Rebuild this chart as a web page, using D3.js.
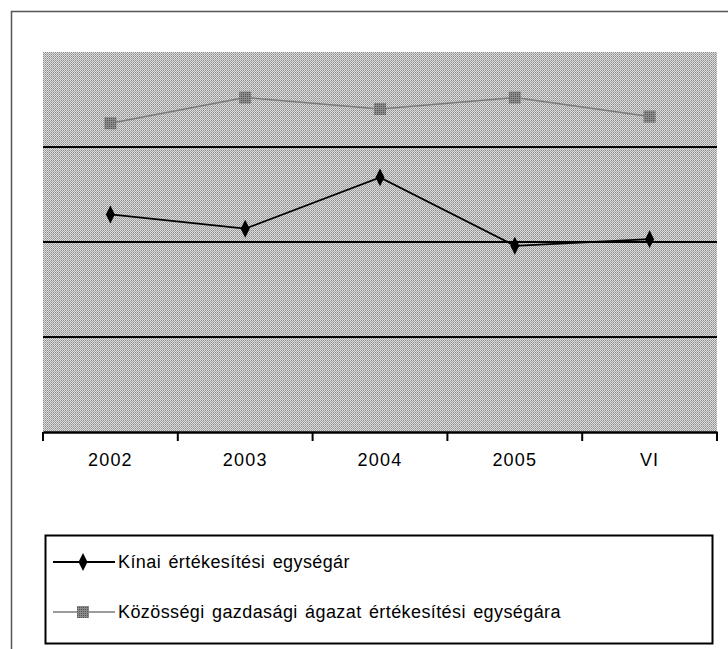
<!DOCTYPE html>
<html>
<head>
<meta charset="utf-8">
<script src="https://cdn.jsdelivr.net/npm/d3@7"></script>
<style>
body { margin: 0; background: #fff; }
svg text { font-family: "Liberation Sans", Arial, sans-serif; }
</style>
</head>
<body>
<div id="chart"></div>
<script>
// data
var categories = ["2002", "2003", "2004", "2005", "VI"];
var kinaiValues = [2.29, 2.14, 2.68, 1.96, 2.03];
var kozossegiValues = [3.25, 3.52, 3.40, 3.52, 3.32];
var gridValues = [1, 2, 3];
var seriesNames = ["Kínai értékesítési egységár", "Közösségi gazdasági ágazat értékesítési egységára"];

var W = 728, H = 649;
var margin = {top: 52, right: 11, bottom: 217, left: 43};
var width = W - margin.left - margin.right;
var height = H - margin.top - margin.bottom;

var svg = d3.select("#chart").append("svg")
    .attr("width", W)
    .attr("height", H);

// dithered grey fill of the plot area
var defs = svg.append("defs");
var pat = defs.append("pattern")
    .attr("id", "dots")
    .attr("width", 2).attr("height", 2)
    .attr("patternUnits", "userSpaceOnUse");
pat.append("rect").attr("width", 2).attr("height", 2).attr("fill", "#dcdcdc");
pat.append("rect").attr("width", 1).attr("height", 1).attr("fill", "#8c8c8c");
pat.append("rect").attr("x", 1).attr("y", 1).attr("width", 1).attr("height", 1).attr("fill", "#a8a8a8");

var patSq = defs.append("pattern")
    .attr("id", "sq")
    .attr("width", 2).attr("height", 2)
    .attr("patternUnits", "userSpaceOnUse");
patSq.append("rect").attr("width", 2).attr("height", 2).attr("fill", "#8a8a8a");
patSq.append("rect").attr("width", 1).attr("height", 1).attr("fill", "#555");

// outer frame
svg.append("rect")
    .attr("x", 11.5).attr("y", 11.5)
    .attr("width", W + 10).attr("height", H + 10)
    .attr("fill", "none")
    .attr("stroke", "#555")
    .attr("stroke-width", 1.5);

var g = svg.append("g")
    .attr("transform", "translate(" + margin.left + "," + margin.top + ")");

var x = d3.scaleBand().domain(categories).range([0, width]);
var y = d3.scaleLinear().domain([0, 4]).range([height, 0]);

g.append("rect")
    .attr("width", width)
    .attr("height", height)
    .attr("fill", "url(#dots)");

g.selectAll(".grid")
    .data(gridValues)
    .enter().append("line")
    .attr("x1", 0).attr("x2", width)
    .attr("y1", function (d) { return y(d); })
    .attr("y2", function (d) { return y(d); })
    .attr("stroke", "#000")
    .attr("stroke-width", 2);

var xAxis = g.append("g")
    .attr("transform", "translate(0," + height + ")")
    .call(d3.axisBottom(x).tickSize(0).tickPadding(21));
xAxis.select(".domain").attr("stroke", "#000").attr("stroke-width", 2.5);
xAxis.selectAll("text").attr("font-size", 18).attr("fill", "#000")
    .attr("letter-spacing", 1.2)
    .attr("font-family", "Liberation Sans, Arial, sans-serif");

// tick marks at band edges
var edges = categories.map(function (c) { return x(c); }).concat([width]);
xAxis.selectAll(".edge")
    .data(edges)
    .enter().append("line")
    .attr("x1", function (d) { return d; })
    .attr("x2", function (d) { return d; })
    .attr("y1", 0).attr("y2", 9)
    .attr("stroke", "#000")
    .attr("stroke-width", 2);

function cx(i) { return x(categories[i]) + x.bandwidth() / 2; }

var line = d3.line()
    .x(function (d, i) { return cx(i); })
    .y(function (d) { return y(d); });

g.append("path")
    .datum(kozossegiValues)
    .attr("d", line)
    .attr("fill", "none")
    .attr("stroke", "#7a7a7a")
    .attr("stroke-width", 1.5);

g.append("path")
    .datum(kinaiValues)
    .attr("d", line)
    .attr("fill", "none")
    .attr("stroke", "#000")
    .attr("stroke-width", 1.8);

var diamond = d3.symbol().type(d3.symbolDiamond).size(70);

g.selectAll(".sq")
    .data(kozossegiValues)
    .enter().append("rect")
    .attr("x", function (d, i) { return cx(i) - 6; })
    .attr("y", function (d) { return y(d) - 6; })
    .attr("width", 12).attr("height", 12)
    .attr("fill", "url(#sq)");

g.selectAll(".dm")
    .data(kinaiValues)
    .enter().append("path")
    .attr("d", diamond)
    .attr("transform", function (d, i) { return "translate(" + cx(i) + "," + y(d) + ") scale(1,1.15)"; })
    .attr("fill", "#000");

// legend
var lg = svg.append("g").attr("transform", "translate(45,535)");
lg.append("rect")
    .attr("x", 0.5).attr("y", 0.5)
    .attr("width", 667).attr("height", 108)
    .attr("fill", "#fff")
    .attr("stroke", "#000")
    .attr("stroke-width", 2);

var rows = [27, 77];
lg.append("line").attr("x1", 8).attr("x2", 70).attr("y1", rows[0]).attr("y2", rows[0])
    .attr("stroke", "#000").attr("stroke-width", 2);
lg.append("path").attr("d", diamond)
    .attr("transform", "translate(38," + rows[0] + ") scale(1,1.15)")
    .attr("fill", "#000");
lg.append("line").attr("x1", 8).attr("x2", 70).attr("y1", rows[1]).attr("y2", rows[1])
    .attr("stroke", "#7a7a7a").attr("stroke-width", 1.5);
lg.append("rect").attr("x", 32).attr("y", rows[1] - 6).attr("width", 12).attr("height", 12)
    .attr("fill", "url(#sq)");

lg.selectAll(".lt")
    .data(seriesNames)
    .enter().append("text")
    .attr("x", 73)
    .attr("y", function (d, i) { return rows[i]; })
    .attr("dy", "0.35em")
    .attr("font-size", 18)
    .attr("word-spacing", 2)
    .attr("letter-spacing", 0.4)
    .attr("fill", "#000")
    .text(function (d) { return d; });
</script>
</body>
</html>
